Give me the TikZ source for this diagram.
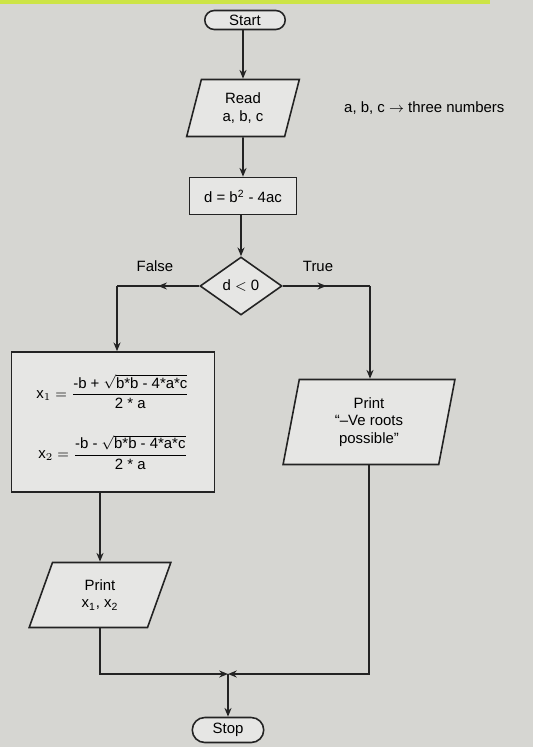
\documentclass[tikz,border=0pt]{standalone}
\usepackage{amsmath}
\usepackage{fontspec}
\setmainfont{Liberation Sans}
\usetikzlibrary{arrows.meta,shapes.geometric,shapes.misc,positioning,decorations.markings}
\definecolor{paper}{RGB}{214,214,210}
\definecolor{ink}{RGB}{35,35,35}
\definecolor{tape}{RGB}{205,228,70}

\begin{document}
\begin{tikzpicture}[x=0.02cm,y=-0.02cm,
        font=\fontsize{8.5}{10}\selectfont,
        flow/.style={draw=ink,line width=0.9pt},
        arr/.style={flow,-{Stealth[length=5pt,width=4pt]}},
        term/.style={draw=ink,rounded rectangle,line width=0.9pt,
                     fill=paper!60!white,inner sep=1pt},
        io/.style={draw=ink,trapezium,trapezium stretches=true,
                   line width=0.9pt,fill=paper!60!white,
                   align=center,inner sep=1pt},
        proc/.style={draw=ink,rectangle,line width=0.9pt,
                     fill=paper!60!white,align=center,inner sep=1pt},
        dec/.style={draw=ink,diamond,line width=0.9pt,
                    fill=paper!60!white,inner sep=0pt},
        midarr/.style={postaction={decorate},
                       decoration={markings,
                         mark=at position 0.5 with {\arrow{Stealth[length=5pt,width=4pt]}}}}
      ]
        % page
        \fill[paper] (0,0) rectangle (533,747);
        \fill[tape] (0,0) rectangle (490,4);
        % boxes
        \node[term,minimum width=1.68cm,minimum height=0.38cm]
          (start) at (245,20){Start};
        \node[io,trapezium left angle=77,trapezium right angle=103,
              minimum width=2.26cm,minimum height=1.14cm]
          (read) at (243,108){Read\\a, b, c};
        \node[anchor=west] (note) at (338,108)
          {a, b, c $\rightarrow$ three numbers};
        \node[proc,minimum width=2.14cm,minimum height=0.74cm]
          (calc) at (243,196){d = b\textsuperscript{2} - 4ac};
        \node[dec,minimum width=1.64cm,minimum height=1.16cm]
          (test) at (241,286){d $<$ 0};
        \node (flabel) at (155,266){False};
        \node (tlabel) at (318,266){True};
        \coordinate (fturn) at (117,286);
        \coordinate (tturn) at (370,286);
        \node[proc,minimum width=4.06cm,minimum height=2.8cm]
          (roots) at (113,422){%
          $\text{x}_1 = \dfrac{\text{-b + }\sqrt{\text{b*b - 4*a*c}}}{\text{2 * a}}$\\[14pt]
          $\text{x}_2 = \dfrac{\text{-b - }\sqrt{\text{b*b - 4*a*c}}}{\text{2 * a}}$};
        \node[io,trapezium left angle=81,trapezium right angle=99,
              minimum width=3.44cm,minimum height=1.7cm]
          (neg) at (369,422){Print\\``--Ve roots\\possible''};
        \node[io,trapezium left angle=74,trapezium right angle=106,
              minimum width=2.84cm,minimum height=1.3cm]
          (out) at (100,595){Print\\x\textsubscript{1}, x\textsubscript{2}};
        \node[term,minimum width=1.5cm,minimum height=0.5cm]
          (stop) at (228,730){Stop};
        \coordinate (join) at (228,674);
        % connectors
        \draw[arr](start.south -| read.north)--(read.north);
        \draw[arr](read)--(calc);
        \draw[arr](calc.south -| test.north)--(test.north);
        \draw[flow,midarr](test.west)--(fturn);
        \draw[arr](fturn)--(fturn |- roots.north);
        \draw[flow,midarr](test.east)--(tturn);
        \draw[arr](tturn)--(tturn |- neg.north);
        \draw[arr](roots.south -| out.north)--(out.north);
        \draw[arr](out.south)--(out.south |- join)--(join);
        \draw[arr](neg.south)--(neg.south |- join)--(join);
        \draw[arr](join)--(stop);
      \end{tikzpicture}
\end{document}
